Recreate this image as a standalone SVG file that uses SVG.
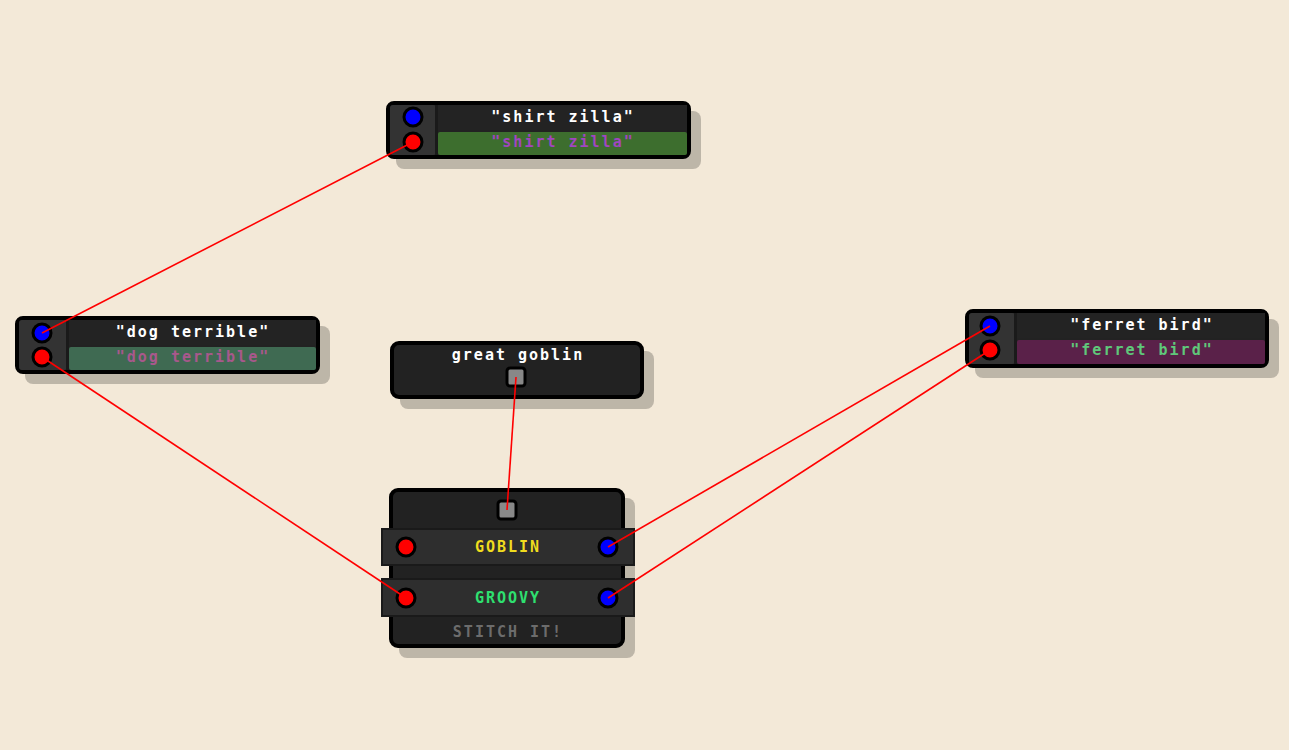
<svg xmlns="http://www.w3.org/2000/svg" width="1289" height="750" viewBox="0 0 1289 750">
<style>
.bg{fill:#f3e9d8}
.shadow{fill:#000;fill-opacity:0.22}
.frame{fill:#222;stroke:#000;stroke-width:4}
.lcol{fill:#333}
.title{fill:#232323}
.sep{fill:#1a1a1a}
.row{fill:#2e2e2e;stroke:#1a1a1a;stroke-width:2}
.pin-b{fill:#0000ff;stroke:#000;stroke-width:3}
.pin-r{fill:#ff0000;stroke:#000;stroke-width:3}
.pin-s{fill:#888;stroke:#000;stroke-width:3}
.t{font-family:"DejaVu Sans Mono","Liberation Mono",monospace;font-weight:bold;font-size:15px;letter-spacing:2px;text-anchor:middle}
.wire{stroke:#ff0000;stroke-width:1.6;fill:none}
</style>
<rect class="bg" x="0" y="0" width="1289" height="750"/>

<g id="node-shirt-zilla" transform="translate(386,101)">
  <rect class="shadow" x="10" y="10" width="305" height="58" rx="8"/>
  <rect class="frame" x="2" y="2" width="301" height="54" rx="6"/>
  <rect class="lcol" x="4" y="4" width="46" height="50" rx="3"/>
  <rect class="sep" x="49" y="4" width="3" height="50"/>
  <rect class="title" x="52" y="4" width="249" height="25"/>
  <rect x="52" y="31" width="249" height="23" rx="2" fill="#3d6e2e"/>
  <circle class="pin-b" cx="27" cy="16" r="9"/>
  <circle class="pin-r" cx="27" cy="41" r="9"/>
  <text class="t" x="177" y="21" fill="#ffffff">"shirt zilla"</text>
  <text class="t" x="177" y="46" fill="#a046c0">"shirt zilla"</text>
</g>

<g id="node-dog-terrible" transform="translate(15,316)">
  <rect class="shadow" x="10" y="10" width="305" height="58" rx="8"/>
  <rect class="frame" x="2" y="2" width="301" height="54" rx="6"/>
  <rect class="lcol" x="4" y="4" width="48" height="50" rx="3"/>
  <rect class="sep" x="51" y="4" width="3" height="50"/>
  <rect class="title" x="54" y="4" width="247" height="25"/>
  <rect x="54" y="31" width="247" height="23" rx="2" fill="#3f6a52"/>
  <circle class="pin-b" cx="27" cy="17" r="9"/>
  <circle class="pin-r" cx="27" cy="41" r="9"/>
  <text class="t" x="178" y="21" fill="#ffffff">"dog terrible"</text>
  <text class="t" x="178" y="46" fill="#a8588c">"dog terrible"</text>
</g>

<g id="node-ferret-bird" transform="translate(965,309)">
  <rect class="shadow" x="10" y="10" width="304" height="59" rx="8"/>
  <rect class="frame" x="2" y="2" width="300" height="55" rx="6"/>
  <rect class="lcol" x="4" y="4" width="46" height="51" rx="3"/>
  <rect class="sep" x="49" y="4" width="3" height="51"/>
  <rect class="title" x="52" y="4" width="248" height="25"/>
  <rect x="52" y="31" width="248" height="24" rx="2" fill="#5a2149"/>
  <circle class="pin-b" cx="25" cy="17" r="9"/>
  <circle class="pin-r" cx="25" cy="41" r="9"/>
  <text class="t" x="177" y="21" fill="#ffffff">"ferret bird"</text>
  <text class="t" x="177" y="46" fill="#5fc87a">"ferret bird"</text>
</g>

<g id="node-great-goblin" transform="translate(390,341)">
  <rect class="shadow" x="10" y="10" width="254" height="58" rx="8"/>
  <rect class="frame" x="2" y="2" width="250" height="54" rx="7"/>
  <text class="t" x="128" y="19" fill="#ffffff">great goblin</text>
  <rect class="pin-s" x="117" y="27" width="18" height="18" rx="3"/>
</g>

<g id="node-stitch" transform="translate(381,488)">
  <rect class="shadow" x="18" y="10" width="236" height="160" rx="8"/>
  <rect class="frame" x="10" y="2" width="232" height="156" rx="7"/>
  <rect class="pin-s" x="117" y="13" width="18" height="18" rx="3"/>
  <rect class="row" x="1" y="41" width="252" height="36"/>
  <circle class="pin-r" cx="25" cy="59" r="9"/>
  <circle class="pin-b" cx="227" cy="59" r="9"/>
  <text class="t" x="127" y="64" fill="#f0dc1e">GOBLIN</text>
  <rect class="row" x="1" y="91" width="252" height="37"/>
  <circle class="pin-r" cx="25" cy="110" r="9"/>
  <circle class="pin-b" cx="227" cy="110" r="9"/>
  <text class="t" x="127" y="115" fill="#2ee070">GROOVY</text>
  <text class="t" x="127" y="149" fill="#6c6c6c">STITCH IT!</text>
</g>

<g id="connectors">
  <line class="wire" x1="42" y1="333" x2="413" y2="142"/>
  <line class="wire" x1="42" y1="357" x2="406" y2="598"/>
  <line class="wire" x1="516" y1="377" x2="507" y2="510"/>
  <line class="wire" x1="608" y1="547" x2="990" y2="326"/>
  <line class="wire" x1="608" y1="598" x2="990" y2="350"/>
</g>
</svg>
